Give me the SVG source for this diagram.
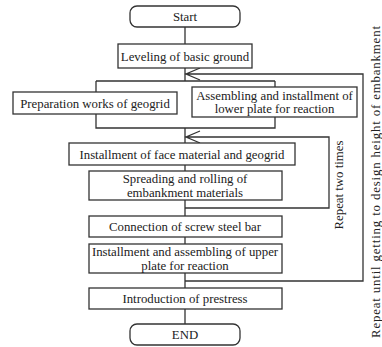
<svg xmlns="http://www.w3.org/2000/svg" width="382" height="347" viewBox="0 0 382 347">
<style>
.b{fill:#fff;stroke:#333;stroke-width:1.3}
.c{fill:none;stroke:#333;stroke-width:1.3}
.t{font-family:"Liberation Serif",serif;font-size:12.8px;fill:#222;text-anchor:middle}
</style>
<rect width="382" height="347" fill="#fff"/>
<g id="connectors">
<path class="c" d="M185 27V44M185 68V81M96 81H275M96 81V92M275 81V87M96 114V128H275V117M185 128V143M185 165V171M185 200V216M185 237V244M185 273V288M185 309V324"/>
<path class="c" d="M185 74H363V281H185M200 68L186 74L200 80"/>
<path class="c" d="M185 137H329V208H185M200 131L186 137L200 143"/>
</g>
<g id="start"><rect class="b" x="130" y="6" width="110" height="21" rx="7"/><text class="t" x="185" y="21">Start</text></g>
<g id="leveling"><rect class="b" x="118" y="44" width="134" height="24"/><text class="t" x="185" y="60.5">Leveling of basic ground</text></g>
<g id="prep"><rect class="b" x="13" y="92" width="164" height="22"/><text class="t" x="95" y="107.5">Preparation works of geogrid</text></g>
<g id="lower"><rect class="b" x="192" y="87" width="165" height="30"/><text class="t" x="274.5" y="99.5">Assembling and installment of</text><text class="t" x="274.5" y="113">lower plate for reaction</text></g>
<g id="face"><rect class="b" x="69" y="143" width="226" height="22"/><text class="t" x="182" y="158.5">Installment of face material and geogrid</text></g>
<g id="spread"><rect class="b" x="89" y="171" width="193" height="29"/><text class="t" x="185" y="183">Spreading and rolling of</text><text class="t" x="185" y="196.5">embankment materials</text></g>
<g id="screw"><rect class="b" x="89" y="216" width="193" height="21"/><text class="t" x="185" y="230.5">Connection of screw steel bar</text></g>
<g id="upper"><rect class="b" x="89" y="244" width="193" height="29"/><text class="t" x="185" y="256">Installment and assembling of upper</text><text class="t" x="185" y="269.5">plate for reaction</text></g>
<g id="prestress"><rect class="b" x="89" y="288" width="193" height="21"/><text class="t" x="185" y="302.5">Introduction of prestress</text></g>
<g id="end"><rect class="b" x="130" y="324" width="110" height="21" rx="7"/><text class="t" x="185" y="339">END</text></g>
<text class="t" transform="translate(343,185) rotate(-90)">Repeat two times</text>
<text class="t" transform="translate(380,182) rotate(-90)" textLength="312" lengthAdjust="spacing">Repeat until getting to design height of embankment</text>
</svg>
